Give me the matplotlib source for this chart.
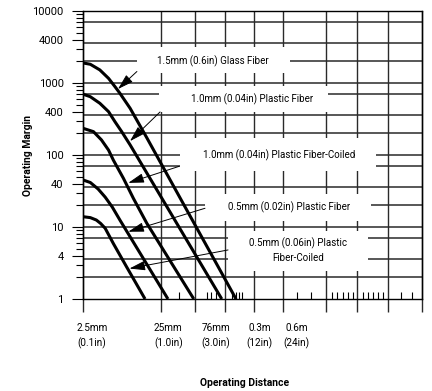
import matplotlib
matplotlib.use("Agg")
import matplotlib.pyplot as plt
from matplotlib import font_manager as fm
from matplotlib.patches import Rectangle
from matplotlib.transforms import ScaledTranslation

# ---------------- data (distance in mm, operating margin) ----------------
glass_d = [2.5, 3.1, 4.1, 5.3, 6.4, 7.4, 10, 16.3, 225]
glass_m = [1900, 1820, 1520, 1160, 890, 720, 445, 174, 1]

pf10_d = [2.5, 3.1, 4.1, 5.3, 6.4, 7.8, 10, 148]
pf10_m = [700, 645, 523, 400, 290, 211, 138, 1]

pf10c_d = [2.5, 3.4, 4.3, 5.3, 6.1, 8.2, 11, 16.3, 65]
pf10c_m = [235, 211, 162, 117, 85, 47.5, 25, 11.3, 1]

pf05_d = [2.5, 3.1, 3.9, 4.8, 5.9, 7.4, 9.5, 30.4]
pf05_m = [45, 41.5, 33.7, 26, 19, 12.5, 8, 1]

pf05c_d = [2.5, 3.1, 3.7, 4.2, 4.8, 6.1, 9.0, 15.5]
pf05c_m = [13.9, 13.5, 12.5, 11.2, 9.6, 5.9, 2.8, 1]

curve_labels = ["1.5mm (0.6in) Glass Fiber",
                "1.0mm (0.04in) Plastic Fiber",
                "1.0mm (0.04in) Plastic Fiber-Coiled",
                "0.5mm (0.02in) Plastic Fiber",
                "0.5mm (0.06in) Plastic\nFiber-Coiled"]
# arrow tips (on curves) and tails (at label boxes), data coords
arrow_tip_d = [7.0, 9.96, 9.47, 9.47, 9.8]
arrow_tip_m = [825, 156, 41, 8.6, 2.65]
arrow_tail_d = [12.2, 24.1, 42.4, 90.4, 178]
arrow_tail_m = [1444, 396, 69.7, 18.2, 4.8]

x_tick_vals = [2.5, 25, 76, 300, 600]
x_tick_labels = ["2.5mm\n(0.1in)", "25mm\n(1.0in)", "76mm\n(3.0in)",
                 "0.3m\n(12in)", "0.6m\n(24in)"]
x_grid_mm = [2.5, 25, 67, 165, 385, 900, 3150, 7800, 19500, 53400]
x_minor_mm = [42, 95, 108, 124, 200, 223, 245, 270, 300, 1360, 2040,
              3750, 4420, 5280, 6110, 7080, 9340, 11000, 12750, 14770,
              17100, 28500, 39400]

y_tick_vals = [1, 4, 10, 40, 100, 400, 1000, 4000, 10000]
y_tick_labels = ["1", "4", "10", "40", "100", "400", "1000", "4000", "10000"]
y_grid = [2, 3.6, 7, 10, 20, 36, 70, 100, 200, 360, 700, 1000, 2000, 3600, 7000]
y_minor = [2, 3, 5, 6, 7, 8, 9, 20, 30, 50, 60, 70, 80, 90,
           200, 300, 500, 600, 700, 800, 900, 2000, 3000, 5000, 6000,
           7000, 8000, 9000]

# ---------------- fonts ----------------
names = {f.name for f in fm.fontManager.ttflist}
fam = [n for n in ["Liberation Sans Narrow", "Roboto", "Liberation Sans"]
       if n in names]
plt.rcParams["font.family"] = fam + ["DejaVu Sans"]

fig = plt.figure(figsize=(4.32, 3.91), dpi=100)
ax = fig.add_axes([83 / 432, 1 - 299 / 391, 339 / 432, 288 / 391])
ax.set_xscale("log")
ax.set_yscale("log")
ax.set_xlim(2.5, 53400)
ax.set_ylim(1, 10000)

gcol = "#2a2a2a"
# grid lines (vertical ones extend below the axis as long ticks)
ax.vlines(x_grid_mm, -13 / 288, 1, transform=ax.get_xaxis_transform(),
          colors=gcol, lw=1.0, clip_on=False, zorder=1)
ax.hlines(y_grid, 0, 1, transform=ax.get_yaxis_transform(),
          colors=gcol, lw=1.1, zorder=1)

# white label backgrounds (axes fraction)
boxes = [(0.1593, 0.7847, 0.4513, 0.0903),
         (0.2242, 0.6493, 0.4985, 0.0903),
         (0.2861, 0.4444, 0.5782, 0.1146),
         (0.3599, 0.2708, 0.4897, 0.0938),
         (0.4277, 0.0972, 0.4130, 0.1389)]
for (x0, y0, w, h) in boxes:
    ax.add_patch(Rectangle((x0, y0), w, h, transform=ax.transAxes,
                           facecolor="white", edgecolor="none", zorder=2))

# curves
for d, m in [(glass_d, glass_m), (pf10_d, pf10_m), (pf10c_d, pf10c_m),
             (pf05_d, pf05_m), (pf05c_d, pf05c_m)]:
    ax.plot(d, m, color="black", lw=2.2, solid_capstyle="butt",
            solid_joinstyle="round", zorder=3)

# labels
label_pos = [(0.3844, 0.824), (0.5, 0.6934), (0.5782, 0.4976),
             (0.6086, 0.317), (0.6342, 0.1684)]
for txt, (lx, ly) in zip(curve_labels, label_pos):
    ax.text(lx, ly, txt, transform=ax.transAxes, ha="center", va="center",
            fontsize=7, linespacing=1.5, zorder=5)

# arrows
for td, tm, sd, sm in zip(arrow_tip_d, arrow_tip_m, arrow_tail_d, arrow_tail_m):
    ax.annotate("", xy=(td, tm), xytext=(sd, sm),
                arrowprops=dict(arrowstyle="-|>,head_length=0.8,head_width=0.24",
                                mutation_scale=12, lw=0.7, color="black",
                                shrinkA=0, shrinkB=0),
                zorder=4)

# ticks
ax.set_xticks(x_tick_vals)
ax.set_xticklabels(x_tick_labels)
ax.set_xticks(x_minor_mm, minor=True)
ax.set_xticklabels([], minor=True)
ax.tick_params(axis="x", which="major", length=0, pad=17, labelsize=7.2)
ax.tick_params(axis="x", which="minor", direction="in", length=5, width=0.8)
label_shift_px = [9, 7, 17, 14, 27]
for lab, sh in zip(ax.get_xticklabels(), label_shift_px):
    lab.set_linespacing(1.5)
    lab.set_transform(lab.get_transform()
                      + ScaledTranslation(sh / 100, 0, fig.dpi_scale_trans))

ax.set_yticks(y_tick_vals)
ax.set_yticklabels(y_tick_labels)
ax.set_yticks(y_minor, minor=True)
ax.set_yticklabels([], minor=True)
ax.tick_params(axis="y", which="major", direction="out", length=8, width=0.8,
               pad=6, labelsize=8)
ax.tick_params(axis="y", which="minor", direction="out", length=5, width=0.8)

for s in ax.spines.values():
    s.set_linewidth(1.0)
    s.set_color("black")

fig.text(28 / 432, 1 - 155 / 391, "Operating Margin", rotation=90,
         ha="center", va="center", fontsize=7.5, fontweight="bold")
fig.text(245 / 432, 1 - 383 / 391, "Operating Distance",
         ha="center", va="center", fontsize=7.5, fontweight="bold")

fig.savefig("out.png", dpi=100)
